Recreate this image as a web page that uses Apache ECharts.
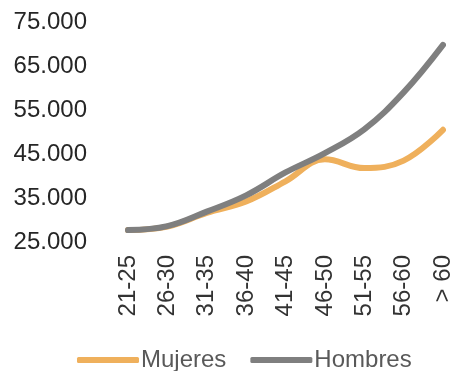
<!DOCTYPE html>
<html>
<head>
<meta charset="utf-8">
<script src="https://cdn.jsdelivr.net/npm/echarts@6/dist/echarts.min.js"></script>
<style>
  html, body { margin: 0; padding: 0; background: #fff; }
  #chart { width: 455px; height: 371px; }
</style>
</head>
<body>
<div id="chart"></div>
<script>
// Age bands
const categories = ['21-25', '26-30', '31-35', '36-40', '41-45', '46-50', '51-55', '56-60', '> 60'];
// Values per age band
const mujeres = [27700, 28500, 31600, 34200, 38800, 43800, 41800, 43500, 50500];
const hombres = [27700, 28600, 31900, 35600, 40800, 45200, 50600, 59000, 69800];
// Y axis range
const yMin = 25000;
const yMax = 75000;
const yStep = 10000;

function thousands(v) {
  return String(v).replace(/\B(?=(\d{3})+(?!\d))/g, '.');
}

const chart = echarts.init(document.getElementById('chart'));
chart.setOption({
  animation: false,
  textStyle: { fontFamily: 'Liberation Sans, Arial, sans-serif' },
  grid: { left: 128, right: 8, top: 22, bottom: 129 },
  xAxis: {
    type: 'category',
    data: categories,
    boundaryGap: false,
    axisLine: { show: false },
    axisTick: { show: false },
    axisLabel: { rotate: 90, margin: 13, fontSize: 24, color: '#333333' }
  },
  yAxis: {
    type: 'value',
    min: yMin,
    max: yMax,
    interval: yStep,
    splitLine: { show: false },
    axisLine: { show: false },
    axisTick: { show: false },
    axisLabel: { margin: 41, fontSize: 24, color: '#262626', formatter: thousands }
  },
  legend: {
    left: 72,
    bottom: -6,
    itemWidth: 62,
    itemHeight: 6,
    itemGap: 24,
    icon: 'roundRect',
    textStyle: { fontSize: 24, color: '#595959', padding: [0, 0, 0, -3] },
    data: ['Mujeres', 'Hombres']
  },
  series: [
    {
      name: 'Mujeres',
      type: 'line',
      data: mujeres,
      smooth: 0.4,
      showSymbol: false,
      lineStyle: { width: 6, color: '#EFB05C', cap: 'round' },
      itemStyle: { color: '#EFB05C' },
      z: 2
    },
    {
      name: 'Hombres',
      type: 'line',
      data: hombres,
      smooth: 0.4,
      showSymbol: false,
      lineStyle: { width: 6, color: '#7F7F7F', cap: 'round' },
      itemStyle: { color: '#7F7F7F' },
      z: 3
    }
  ]
});
</script>
</body>
</html>
